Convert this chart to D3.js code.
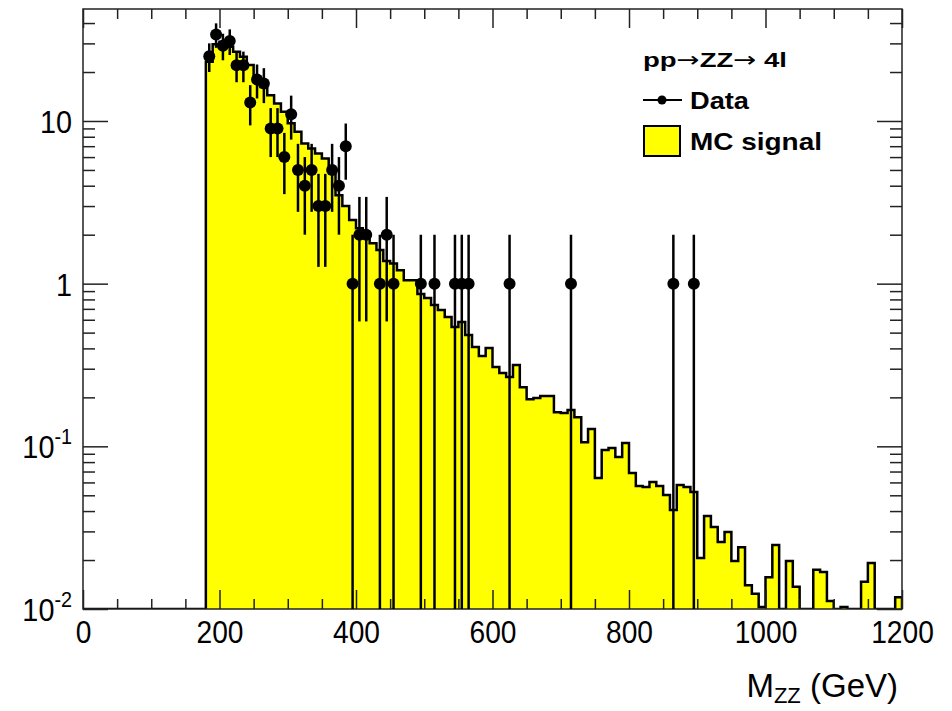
<!DOCTYPE html>
<html>
<head>
<meta charset="utf-8">
<script src="https://cdn.jsdelivr.net/npm/d3@7"></script>
<style>
  body { margin: 0; background: #fff; }
  text { font-family: "Liberation Sans", Arial, Helvetica, sans-serif; }
</style>
</head>
<body>
<div id="chart"></div>
<script>
// MC signal, 10 GeV bins starting at 180 GeV (everything below is empty)
const mcLowEdge = 180
const mcBinWidth = 10
const mcSignal = [
  23.1, 29.6, 30.7, 28.6, 26.6, 24.8, 22.1, 17.4, 16.2, 14.4,
  12.8, 11.4, 9.67, 8.58, 7.28, 6.78, 6.32, 5.89, 5.11, 3.50,
  3.0, 2.46, 2.19, 1.90, 1.77, 1.61, 1.38, 1.33, 1.21, 1.05,
  1.05, 0.863, 0.816, 0.739, 0.688, 0.623, 0.541, 0.581, 0.483, 0.408,
  0.359, 0.402, 0.307, 0.282, 0.267, 0.316, 0.231, 0.195, 0.198, 0.204,
  0.204, 0.162, 0.160, 0.167, 0.151, 0.106, 0.128, 0.0639, 0.0949, 0.0976,
  0.0859, 0.1047, 0.0686, 0.057, 0.0562, 0.0603, 0.057, 0.0502, 0.0406, 0.0578,
  0.0562, 0.0524, 0.0206, 0.0373, 0.0319, 0.0258, 0.0297, 0.0197, 0.024, 0.014,
  0.0124, 0.0103, 0.0157, 0.0247, 0, 0.0197, 0.0137, 0, 0, 0.0174,
  0.0169, 0.0112, 0, 0.0103, 0, 0, 0.0147, 0.0192, 0, 0,
  0, 0.0118
]

// data: bin centre (GeV) and number of events
const dataMass = [185, 195, 205, 215, 225, 235, 245, 255, 265, 275, 285, 295,
  305, 315, 325, 335, 345, 355, 365, 375, 385, 395, 405, 415, 435, 445, 455,
  495, 515, 545, 555, 565, 625, 715, 865, 895]
const dataCounts = [25, 34, 29, 31, 22, 22, 13, 18, 17, 9, 9, 6,
  11, 5, 4, 5, 3, 3, 5, 4, 7, 1, 2, 2, 1, 2, 1,
  1, 1, 1, 1, 1, 1, 1, 1, 1]

const xTicks = [0, 200, 400, 600, 800, 1000, 1200]
const yDecades = [0.01, 0.1, 1, 10]
const yLabels = [["10", "-2"], ["10", "-1"], ["1", ""], ["10", ""]]

const params = {
  fullWidth: 952, fullHeight: 711,
  left: 83, top: 9, right: 902, bottom: 609,
  yMin: 0.01, yMax: 48.8, xMax: 1200
}

const svg = d3.select("#chart").append("svg")
  .attr("width", params.fullWidth)
  .attr("height", params.fullHeight)

const x = d3.scaleLinear().domain([0, params.xMax]).range([params.left, params.right])
const y = d3.scaleLog().domain([params.yMin, params.yMax]).range([params.bottom, params.top])
const yc = v => y(Math.max(v, params.yMin))

svg.append("clipPath").attr("id", "frame")
  .append("rect")
  .attr("x", params.left).attr("y", params.top)
  .attr("width", params.right - params.left)
  .attr("height", params.bottom - params.top)

// histogram as step points: empty region, then each bin, then back to the floor
const steps = [{ e: 0, v: 0 }]
mcSignal.forEach((v, i) => steps.push({ e: mcLowEdge + i * mcBinWidth, v: v }))
steps.push({ e: params.xMax, v: 0 })

const plot = svg.append("g").attr("clip-path", "url(#frame)")

plot.append("path")
  .datum(steps)
  .attr("fill", "#ffff00")
  .attr("d", d3.area().curve(d3.curveStepAfter)
    .x(d => x(d.e)).y0(params.bottom).y1(d => yc(d.v)))

plot.append("path")
  .datum(steps)
  .attr("fill", "none")
  .attr("stroke", "#000")
  .attr("stroke-width", 2.5)
  .attr("d", d3.line().curve(d3.curveStepAfter)
    .x(d => x(d.e)).y(d => yc(d.v)))

// frame
svg.append("rect")
  .attr("x", params.left).attr("y", params.top)
  .attr("width", params.right - params.left)
  .attr("height", params.bottom - params.top)
  .attr("fill", "none").attr("stroke", "#222").attr("stroke-width", 1.5)

// axes, ROOT style ticks pointing inwards
const minorX = d3.range(0, params.xMax + 1, 50).filter(v => v % 200 !== 0)
const minorY = y.ticks().filter(v => !yDecades.includes(v))

function styleAxis(g) {
  g.select(".domain").remove()
  g.selectAll(".tick line").attr("stroke", "#222").attr("stroke-width", 1.5)
}

const xBottom = svg.append("g").attr("transform", `translate(0,${params.bottom})`)
xBottom.call(d3.axisBottom(x).tickValues(xTicks).tickSize(-19).tickPadding(11)
  .tickFormat(d3.format("d")))
  .call(styleAxis)
xBottom.selectAll("text")
  .attr("font-size", "32px").attr("fill", "#000")
  .attr("font-family", "'Liberation Sans', Arial, sans-serif")
  .style("transform-box", "fill-box")
  .style("transform-origin", "center")
  .style("transform", "scaleX(0.88)")
svg.append("g").attr("transform", `translate(0,${params.bottom})`)
  .call(d3.axisBottom(x).tickValues(minorX).tickSize(-10).tickFormat(""))
  .call(styleAxis)

svg.append("g").attr("transform", `translate(0,${params.top})`)
  .call(d3.axisTop(x).tickValues(xTicks).tickSize(-19).tickFormat(""))
  .call(styleAxis)
svg.append("g").attr("transform", `translate(0,${params.top})`)
  .call(d3.axisTop(x).tickValues(minorX).tickSize(-10).tickFormat(""))
  .call(styleAxis)

svg.append("g").attr("transform", `translate(${params.left},0)`)
  .call(d3.axisLeft(y).tickValues(yDecades).tickSize(-25).tickFormat(""))
  .call(styleAxis)
svg.append("g").attr("transform", `translate(${params.left},0)`)
  .call(d3.axisLeft(y).tickValues(minorY).tickSize(-12).tickFormat(""))
  .call(styleAxis)
svg.append("g").attr("transform", `translate(${params.right},0)`)
  .call(d3.axisRight(y).tickValues(yDecades).tickSize(-25).tickFormat(""))
  .call(styleAxis)
svg.append("g").attr("transform", `translate(${params.right},0)`)
  .call(d3.axisRight(y).tickValues(minorY).tickSize(-12).tickFormat(""))
  .call(styleAxis)

// y labels with exponents
const yLab = svg.append("g")
yDecades.forEach((v, i) => {
  const t = yLab.append("text")
    .attr("x", params.left - 11)
    .attr("y", y(v) + 12)
    .attr("text-anchor", "end")
    .attr("font-size", "32px")
    .style("transform-box", "fill-box")
    .style("transform-origin", "right center")
    .style("transform", "scaleX(0.9)")
    .text(yLabels[i][0])
  if (yLabels[i][1]) {
    t.append("tspan").attr("dy", -14).attr("font-size", "22px").text(yLabels[i][1])
  }
})

// x title
const xt = svg.append("text")
  .attr("x", 898).attr("y", 697)
  .attr("text-anchor", "end")
  .attr("font-size", "33px")
  .text("M")
xt.append("tspan").attr("dy", 6).attr("font-size", "22px").text("ZZ")
xt.append("tspan").attr("dy", -6).text(" (GeV)")

// data points with Poisson errors
const pts = svg.append("g").attr("clip-path", "url(#frame)")
dataMass.forEach((m, i) => {
  const n = dataCounts[i]
  const err = Math.sqrt(n)
  pts.append("line")
    .attr("x1", x(m)).attr("x2", x(m))
    .attr("y1", yc(n - err)).attr("y2", yc(n + err))
    .attr("stroke", "#000").attr("stroke-width", 2.5)
  pts.append("circle")
    .attr("cx", x(m)).attr("cy", y(n)).attr("r", 6)
    .attr("fill", "#000")
})

// legend
const leg = svg.append("g").attr("font-weight", "bold")
const head = leg.append("text").attr("x", 643).attr("y", 67).attr("font-size", "21px")
  .attr("textLength", 144).attr("lengthAdjust", "spacingAndGlyphs")
head.append("tspan").text("pp")
head.append("tspan").attr("font-weight", "normal").attr("font-family", "'DejaVu Sans'").text("\u2192")
head.append("tspan").text("ZZ")
head.append("tspan").attr("font-weight", "normal").attr("font-family", "'DejaVu Sans'").text("\u2192")
head.append("tspan").text(" 4l")

leg.append("line").attr("x1", 643).attr("x2", 682).attr("y1", 100).attr("y2", 100)
  .attr("stroke", "#000").attr("stroke-width", 2)
leg.append("circle").attr("cx", 662).attr("cy", 100).attr("r", 4.5).attr("fill", "#000")
leg.append("text").attr("x", 690).attr("y", 109).attr("font-size", "24px")
  .attr("textLength", 59).attr("lengthAdjust", "spacingAndGlyphs").text("Data")

leg.append("rect").attr("x", 644).attr("y", 126).attr("width", 36).attr("height", 30)
  .attr("fill", "#ffff00").attr("stroke", "#000").attr("stroke-width", 2)
leg.append("text").attr("x", 690).attr("y", 150).attr("font-size", "24px")
  .attr("textLength", 132).attr("lengthAdjust", "spacingAndGlyphs").text("MC signal")
</script>
</body>
</html>
